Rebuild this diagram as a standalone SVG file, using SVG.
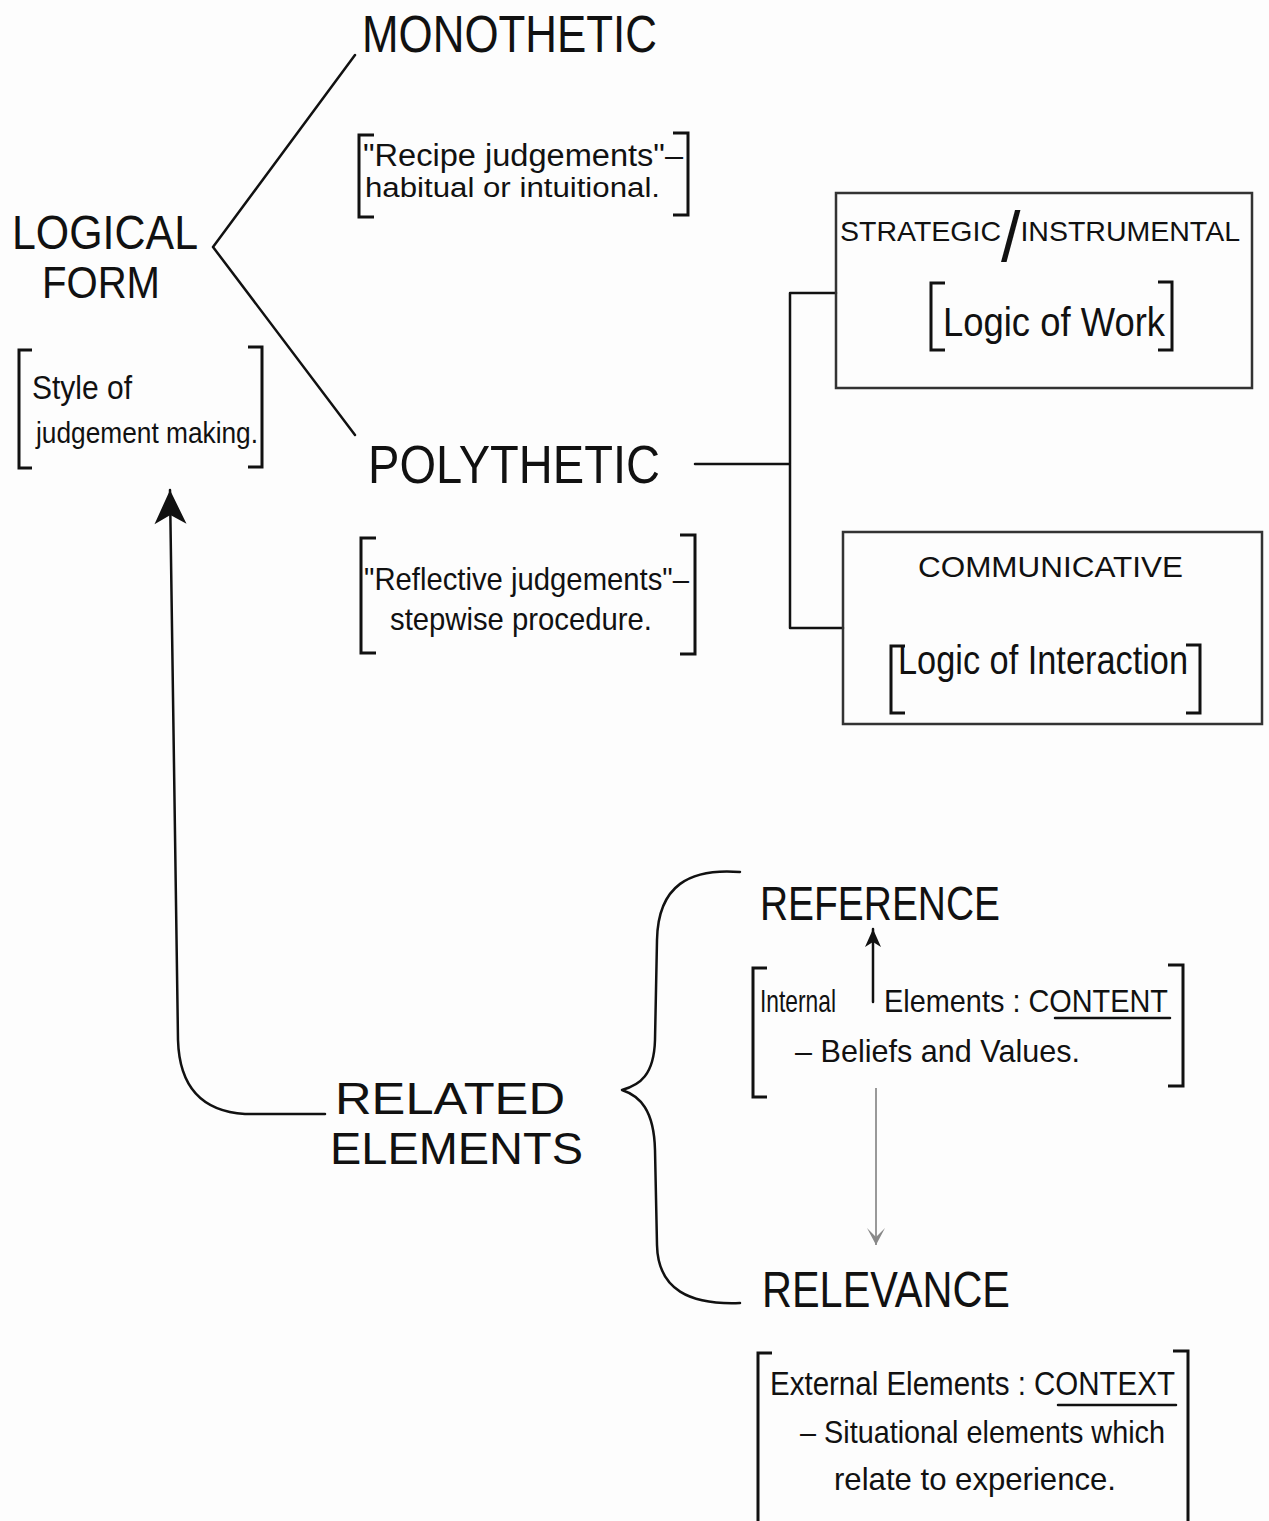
<svg xmlns="http://www.w3.org/2000/svg" width="1269" height="1521" viewBox="0 0 1269 1521">
<defs>
<style>
.t{font-family:"Liberation Sans","DejaVu Sans",sans-serif;fill:#111}
.b{font-size:32px}
.ln{fill:none;stroke:#111;stroke-width:2.5;stroke-linecap:round;stroke-linejoin:round}
.br{fill:none;stroke:#111;stroke-width:3;stroke-linejoin:miter}
.box{fill:none;stroke:#333;stroke-width:2.5}
</style>
<marker id="ah" viewBox="0 0 20 20" refX="19" refY="10" markerWidth="20" markerHeight="20" markerUnits="userSpaceOnUse" orient="auto">
<path d="M19 10 L1 2 L6 10 L1 18 Z" fill="#111"/>
</marker>
<marker id="ahBig" viewBox="0 0 36 34" refX="35" refY="17" markerWidth="36" markerHeight="34" markerUnits="userSpaceOnUse" orient="auto">
<path d="M35 17 L1 1 L10 17 L1 33 Z" fill="#111"/>
</marker>
<marker id="ahGray" viewBox="0 0 20 20" refX="19" refY="10" markerWidth="20" markerHeight="20" markerUnits="userSpaceOnUse" orient="auto">
<path d="M19 10 L2 1 L11 10 L2 19 Z" fill="#888"/>
</marker>
</defs>
<rect width="1269" height="1521" fill="#fdfdfd"/>

<g id="connectors">
<path class="ln" d="M355 55 L213 247 L355 435"/>
<path class="ln" d="M695 464 H790 M836 293 H790 V628 H843"/>
<path class="ln" d="M325 1114 H245 Q180 1110 178 1040 L170 490" marker-end="url(#ahBig)"/>
<path class="ln" d="M873 1002 V929" marker-end="url(#ah)"/>
<path d="M876 1088 V1245" fill="none" stroke="#999" stroke-width="2" marker-end="url(#ahGray)"/>
<path class="ln" d="M740 872 C690 868 658 885 657 940 L655 1040 C654 1075 640 1085 622 1090 C640 1096 654 1110 655 1150 L657 1245 C658 1290 690 1305 740 1303" stroke-width="3"/>
</g>

<g id="logical-form">
<text class="t" x="12" y="249" font-size="48" textLength="186" lengthAdjust="spacingAndGlyphs">LOGICAL</text>
<text class="t" x="42" y="298" font-size="44" textLength="118" lengthAdjust="spacingAndGlyphs">FORM</text>
</g>
<g id="logical-form-note">
<path class="br" d="M32 350 H19 V468 H32 M248 347 H262 V467 H248"/>
<text class="t" x="32" y="399" font-size="34" textLength="100" lengthAdjust="spacingAndGlyphs">Style of</text>
<text class="t" x="36" y="443" font-size="30" textLength="222" lengthAdjust="spacingAndGlyphs">judgement making.</text>
</g>

<g id="monothetic">
<text class="t" x="362" y="52" font-size="52" textLength="295" lengthAdjust="spacingAndGlyphs">MONOTHETIC</text>
<path class="br" d="M374 135 H359 V217 H374 M673 133 H688 V215 H673"/>
<text class="t" x="363" y="166" font-size="31" textLength="320" lengthAdjust="spacingAndGlyphs">"Recipe judgements"–</text>
<text class="t" x="365" y="197" font-size="27" textLength="295" lengthAdjust="spacingAndGlyphs">habitual or intuitional.</text>
</g>

<g id="polythetic">
<text class="t" x="368" y="483" font-size="54" textLength="292" lengthAdjust="spacingAndGlyphs">POLYTHETIC</text>
<path class="br" d="M376 538 H361 V653 H376 M680 535 H695 V654 H680"/>
<text class="t b" x="364" y="590" textLength="325" lengthAdjust="spacingAndGlyphs">"Reflective judgements"–</text>
<text class="t b" x="390" y="630" textLength="262" lengthAdjust="spacingAndGlyphs">stepwise procedure.</text>
</g>

<g id="strategic">
<rect class="box" x="836" y="193" width="416" height="195"/>
<text class="t" x="840" y="241" font-size="28.5">STRATEGIC<tspan font-size="70" dy="20">/</tspan><tspan dy="-20">INSTRUMENTAL</tspan></text>
<path class="br" d="M945 283 H931 V350 H945 M1158 282 H1172 V350 H1158"/>
<text class="t" x="943" y="336" font-size="40" textLength="222" lengthAdjust="spacingAndGlyphs">Logic of Work</text>
</g>

<g id="communicative">
<rect class="box" x="843" y="532" width="419" height="192"/>
<text class="t" x="918" y="577" font-size="30" textLength="265" lengthAdjust="spacingAndGlyphs">COMMUNICATIVE</text>
<path class="br" d="M905 646 H891 V713 H905 M1186 645 H1200 V713 H1186"/>
<text class="t" x="898" y="674" font-size="40" textLength="290" lengthAdjust="spacingAndGlyphs">Logic of Interaction</text>
</g>

<g id="related-elements">
<text class="t" x="335" y="1114" font-size="44" textLength="230" lengthAdjust="spacingAndGlyphs">RELATED</text>
<text class="t" x="330" y="1164" font-size="44" textLength="253" lengthAdjust="spacingAndGlyphs">ELEMENTS</text>
</g>

<g id="reference">
<text class="t" x="760" y="920" font-size="48" textLength="240" lengthAdjust="spacingAndGlyphs">REFERENCE</text>
<path class="br" d="M767 968 H753 V1097 H767 M1168 965 H1183 V1086 H1168"/>
<text class="t" x="760" y="1012" font-size="32" textLength="76" lengthAdjust="spacingAndGlyphs">Internal</text>
<text class="t" x="884" y="1012" font-size="32" textLength="284" lengthAdjust="spacingAndGlyphs">Elements : CONTENT</text>
<path class="ln" d="M1055 1018 H1170"/>
<text class="t b" x="795" y="1062" textLength="285" lengthAdjust="spacingAndGlyphs">– Beliefs and Values.</text>
</g>

<g id="relevance">
<text class="t" x="762" y="1307" font-size="50" textLength="248" lengthAdjust="spacingAndGlyphs">RELEVANCE</text>
<path class="br" d="M772 1353 H758 V1521 M1173 1351 H1188 V1521"/>
<text class="t" x="770" y="1395" font-size="34" textLength="405" lengthAdjust="spacingAndGlyphs">External Elements : CONTEXT</text>
<path class="ln" d="M1058 1405 H1176"/>
<text class="t b" x="800" y="1443" textLength="365" lengthAdjust="spacingAndGlyphs">– Situational elements which</text>
<text class="t b" x="834" y="1490" textLength="282" lengthAdjust="spacingAndGlyphs">relate to experience.</text>
</g>
</svg>
